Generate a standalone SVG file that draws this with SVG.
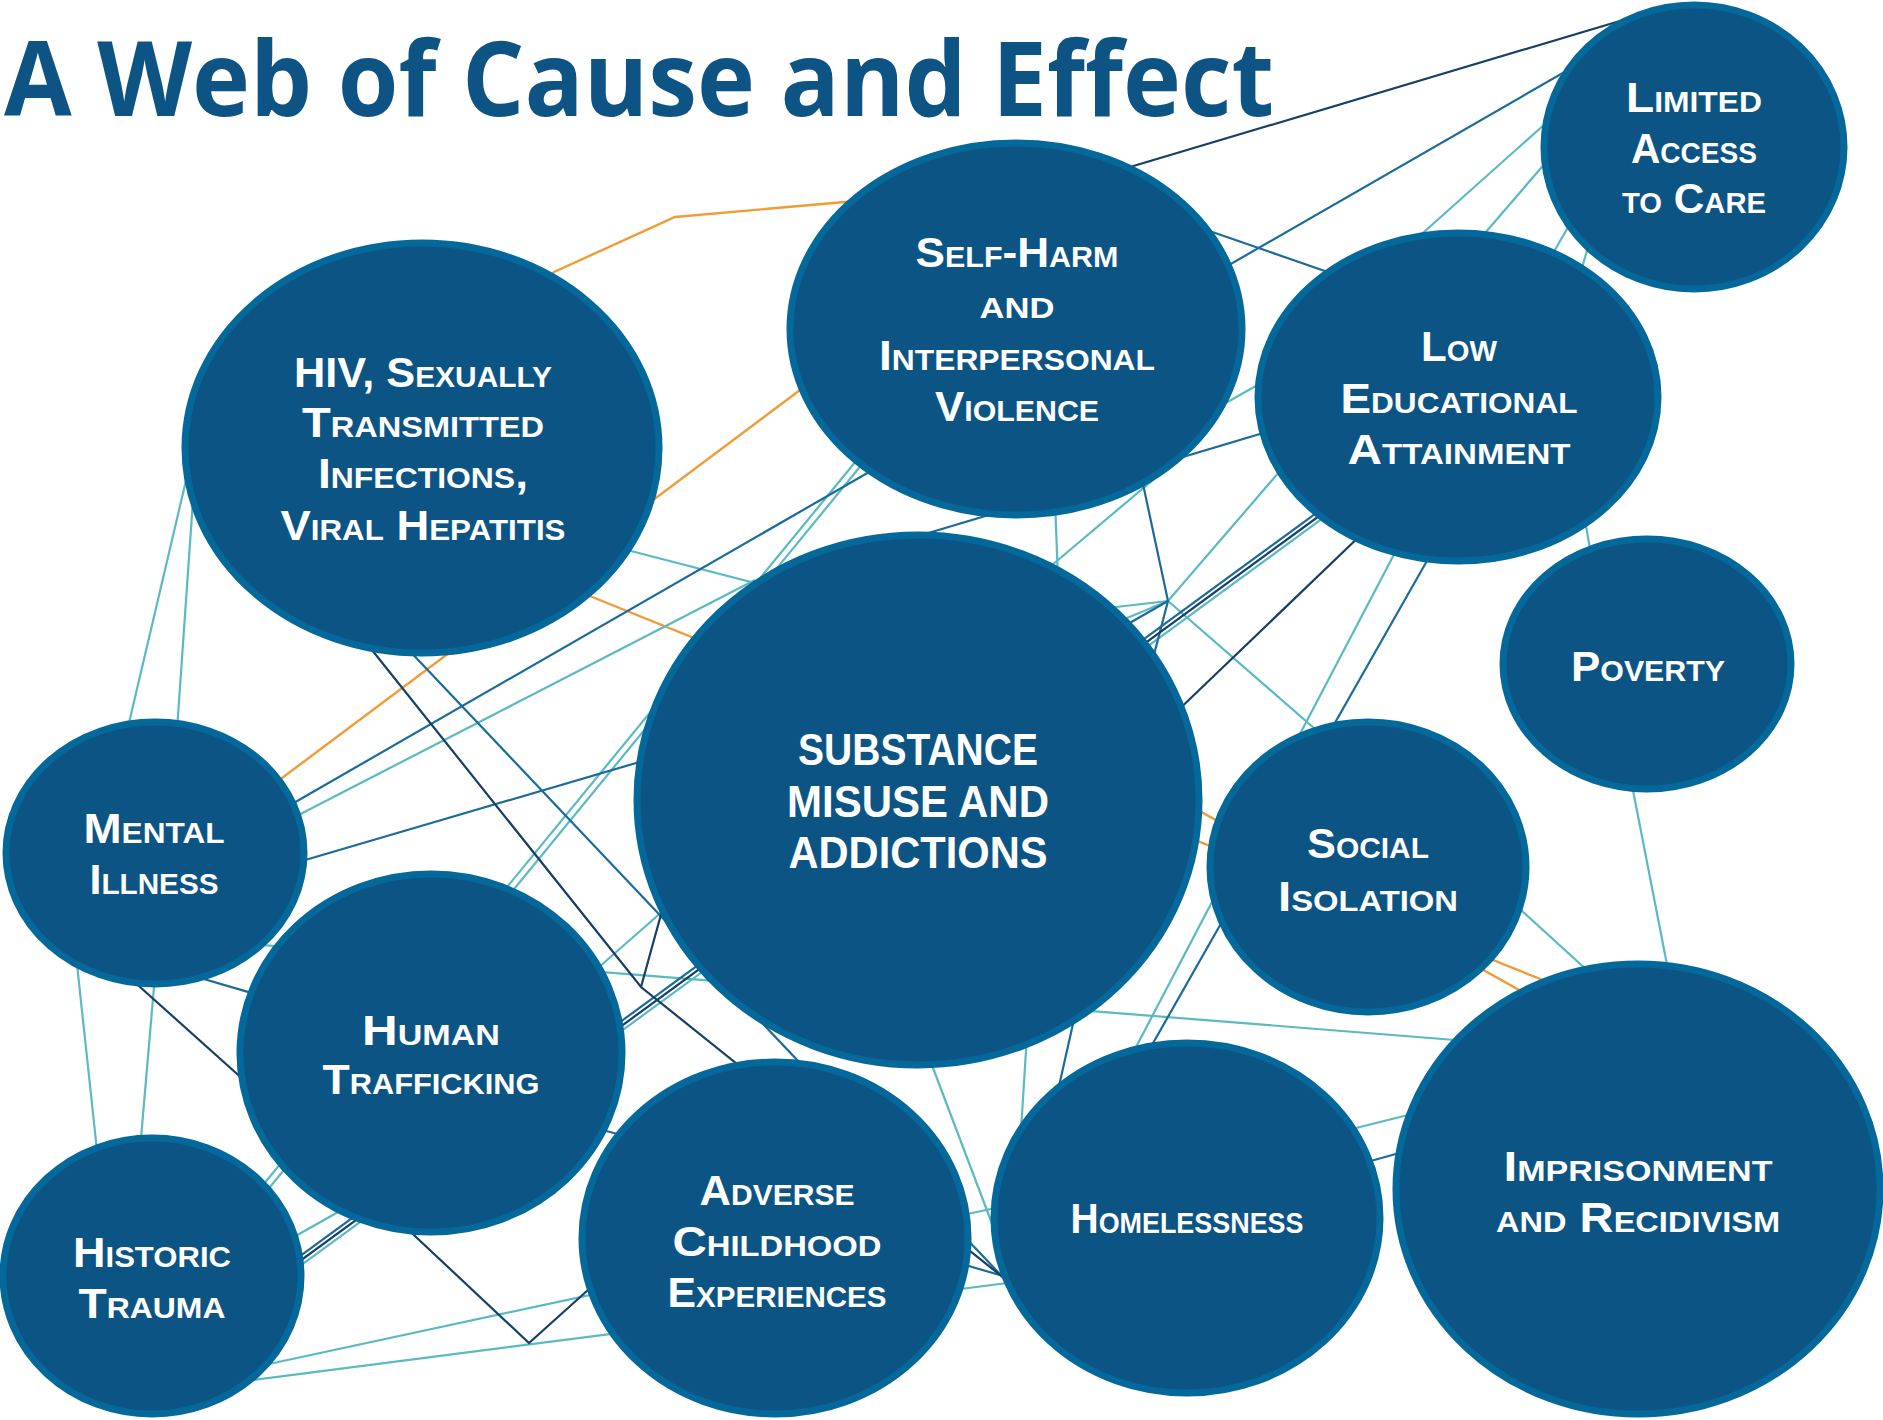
<svg xmlns="http://www.w3.org/2000/svg" width="1883" height="1420" viewBox="0 0 1883 1420">
<style>
.t{stroke:#5ab9c1;stroke-width:2.2;fill:none}
.b{stroke:#1b6b9a;stroke-width:2.2;fill:none}
.n{stroke:#163f66;stroke-width:2.2;fill:none}
.o{stroke:#f29a36;stroke-width:2.4;fill:none}
.node ellipse{fill:#0c5484;stroke:#04689a;stroke-width:7}
.lbl{font-family:"Liberation Sans","Arimo","DejaVu Sans",sans-serif;font-weight:700;fill:#ffffff;text-anchor:middle;font-size:42px;font-variant:small-caps}
.cap{font-variant:normal;font-size:44px}
.title{font-family:"Open Sans","Noto Sans","DejaVu Sans",sans-serif;font-weight:700;fill:#0d5485;font-size:104px}
</style>
<rect width="1883" height="1420" fill="#ffffff"/>
<text class="title" x="4" y="116" textLength="1270" lengthAdjust="spacingAndGlyphs">A Web of Cause and Effect</text>
<g id="connectors">
<path class="o" d="M540,285 L554,272 L675,217 L845,202 L875,200"/>
<path class="o" d="M820,375 L270,787"/>
<path class="o" d="M560,584 L1560,987"/>
<path class="o" d="M1000,699 L1560,1013"/>
<path class="t" d="M125,740 L192,455"/>
<path class="t" d="M177,730 L193,500"/>
<path class="t" d="M76,955 L98,1160"/>
<path class="t" d="M155,975 L140,1150"/>
<path class="t" d="M250,944 L1480,1042"/>
<path class="t" d="M870,444 L240,1213"/>
<path class="t" d="M877,446 L247,1215"/>
<path class="t" d="M285,822 L755,580"/>
<path class="t" d="M600,543 L770,587"/>
<path class="t" d="M1055,500 L1058,580"/>
<path class="t" d="M1045,571 L1160,474"/>
<path class="t" d="M1090,610 L1168,601 L1560,146"/>
<path class="t" d="M1110,625 L1168,601 L1330,742"/>
<path class="t" d="M1135,1049 L1400,543"/>
<path class="t" d="M1584,515 L1592,560"/>
<path class="t" d="M1630,775 L1670,980"/>
<path class="t" d="M1510,900 L1600,982"/>
<path class="t" d="M1340,1132 L1420,1112"/>
<path class="t" d="M930,1060 L1002,1250"/>
<path class="t" d="M1027,1035 L1021,1130"/>
<path class="t" d="M255,1367 L1000,1207"/>
<path class="t" d="M245,1381 L1015,1282"/>
<path class="t" d="M285,1242 L370,1194"/>
<path class="t" d="M590,975 L672,903"/>
<path class="t" d="M1555,115 L1415,240"/>
<path class="t" d="M1575,215 L1548,262"/>
<path class="t" d="M1590,240 L1580,275"/>
<path class="t" d="M1210,412 L1275,375"/>
<path class="t" d="M287.4,1275.2 L1332.4,511.2"/>
<path class="b" d="M1575,66 L285,808"/>
<path class="b" d="M1195,226 L1345,278"/>
<path class="b" d="M1280,428 L905,540"/>
<path class="b" d="M295,863 L660,756"/>
<path class="b" d="M1148,1052 L1432,552"/>
<path class="b" d="M1140,470 L1168,601 L1150,670"/>
<path class="b" d="M1168,601 L1100,640"/>
<path class="b" d="M190,975 L262,996"/>
<path class="b" d="M404,645 L1015,1290"/>
<path class="b" d="M595,1128 L640,1140"/>
<path class="b" d="M1075,1015 L1057,1095"/>
<path class="b" d="M955,1262 L1010,1278"/>
<path class="b" d="M1360,1164 L1410,1150"/>
<path class="b" d="M282.6,1268.8 L1327.6,504.8"/>
<path class="n" d="M1120,170 L1650,12"/>
<path class="n" d="M130,978 L255,1090"/>
<path class="n" d="M368,645 L641,987 L1010,1283"/>
<path class="n" d="M400,1222 L529,1343 L598,1281"/>
<path class="n" d="M665,900 L641,987"/>
<path class="n" d="M1170,718 L1365,531"/>
<path class="n" d="M285,1272 L1330,508"/>
</g>
<g id="node-limited-access" class="node">
<ellipse cx="1694" cy="147" rx="150" ry="142"/>
<text class="lbl" x="1694" y="112" textLength="136" lengthAdjust="spacingAndGlyphs">Limited</text>
<text class="lbl" x="1694" y="163" textLength="126" lengthAdjust="spacingAndGlyphs">Access</text>
<text class="lbl" x="1694" y="213" textLength="144" lengthAdjust="spacingAndGlyphs">to Care</text>
</g>
<g id="node-hiv" class="node">
<ellipse cx="422" cy="448" rx="237" ry="205"/>
<text class="lbl" x="423" y="387" textLength="258" lengthAdjust="spacingAndGlyphs">HIV, Sexually</text>
<text class="lbl" x="423" y="437" textLength="242" lengthAdjust="spacingAndGlyphs">Transmitted</text>
<text class="lbl" x="423" y="488" textLength="210" lengthAdjust="spacingAndGlyphs">Infections,</text>
<text class="lbl" x="423" y="540" textLength="285" lengthAdjust="spacingAndGlyphs">Viral Hepatitis</text>
</g>
<g id="node-self-harm" class="node">
<ellipse cx="1016" cy="329" rx="226" ry="186"/>
<text class="lbl" x="1017" y="267" textLength="203" lengthAdjust="spacingAndGlyphs">Self-Harm</text>
<text class="lbl" x="1017" y="318" textLength="75" lengthAdjust="spacingAndGlyphs">and</text>
<text class="lbl" x="1017" y="370" textLength="276" lengthAdjust="spacingAndGlyphs">Interpersonal</text>
<text class="lbl" x="1017" y="421" textLength="164" lengthAdjust="spacingAndGlyphs">Violence</text>
</g>
<g id="node-low-education" class="node">
<ellipse cx="1458" cy="397" rx="200" ry="164"/>
<text class="lbl" x="1459" y="361" textLength="76" lengthAdjust="spacingAndGlyphs">Low</text>
<text class="lbl" x="1459" y="413" textLength="237" lengthAdjust="spacingAndGlyphs">Educational</text>
<text class="lbl" x="1459" y="464" textLength="223" lengthAdjust="spacingAndGlyphs">Attainment</text>
</g>
<g id="node-substance" class="node">
<ellipse cx="918" cy="800" rx="281" ry="265"/>
<text class="lbl cap" x="918" y="765" textLength="240" lengthAdjust="spacingAndGlyphs">SUBSTANCE</text>
<text class="lbl cap" x="918" y="817" textLength="262" lengthAdjust="spacingAndGlyphs">MISUSE AND</text>
<text class="lbl cap" x="918" y="868" textLength="259" lengthAdjust="spacingAndGlyphs">ADDICTIONS</text>
</g>
<g id="node-social-isolation" class="node">
<ellipse cx="1368" cy="867" rx="158" ry="145"/>
<text class="lbl" x="1368" y="858" textLength="122" lengthAdjust="spacingAndGlyphs">Social</text>
<text class="lbl" x="1368" y="911" textLength="180" lengthAdjust="spacingAndGlyphs">Isolation</text>
</g>
<g id="node-poverty" class="node">
<ellipse cx="1647" cy="664" rx="144" ry="125"/>
<text class="lbl" x="1648" y="681" textLength="154" lengthAdjust="spacingAndGlyphs">Poverty</text>
</g>
<g id="node-imprisonment" class="node">
<ellipse cx="1638" cy="1189" rx="242" ry="225"/>
<text class="lbl" x="1638" y="1181" textLength="269" lengthAdjust="spacingAndGlyphs">Imprisonment</text>
<text class="lbl" x="1638" y="1232" textLength="284" lengthAdjust="spacingAndGlyphs">and Recidivism</text>
</g>
<g id="node-homelessness" class="node">
<ellipse cx="1187" cy="1218" rx="193" ry="175"/>
<text class="lbl" x="1187" y="1233" textLength="233" lengthAdjust="spacingAndGlyphs">Homelessness</text>
</g>
<g id="node-adverse" class="node">
<ellipse cx="775" cy="1238" rx="193" ry="176"/>
<text class="lbl" x="777" y="1205" textLength="155" lengthAdjust="spacingAndGlyphs">Adverse</text>
<text class="lbl" x="777" y="1256" textLength="209" lengthAdjust="spacingAndGlyphs">Childhood</text>
<text class="lbl" x="777" y="1307" textLength="219" lengthAdjust="spacingAndGlyphs">Experiences</text>
</g>
<g id="node-mental-illness" class="node">
<ellipse cx="155" cy="853" rx="149" ry="131"/>
<text class="lbl" x="154" y="843" textLength="141" lengthAdjust="spacingAndGlyphs">Mental</text>
<text class="lbl" x="154" y="894" textLength="129" lengthAdjust="spacingAndGlyphs">Illness</text>
</g>
<g id="node-human-trafficking" class="node">
<ellipse cx="431" cy="1053" rx="191" ry="179"/>
<text class="lbl" x="431" y="1045" textLength="138" lengthAdjust="spacingAndGlyphs">Human</text>
<text class="lbl" x="431" y="1094" textLength="217" lengthAdjust="spacingAndGlyphs">Trafficking</text>
</g>
<g id="node-historic-trauma" class="node">
<ellipse cx="152" cy="1276" rx="149" ry="138"/>
<text class="lbl" x="152" y="1267" textLength="158" lengthAdjust="spacingAndGlyphs">Historic</text>
<text class="lbl" x="152" y="1318" textLength="147" lengthAdjust="spacingAndGlyphs">Trauma</text>
</g>
</svg>
